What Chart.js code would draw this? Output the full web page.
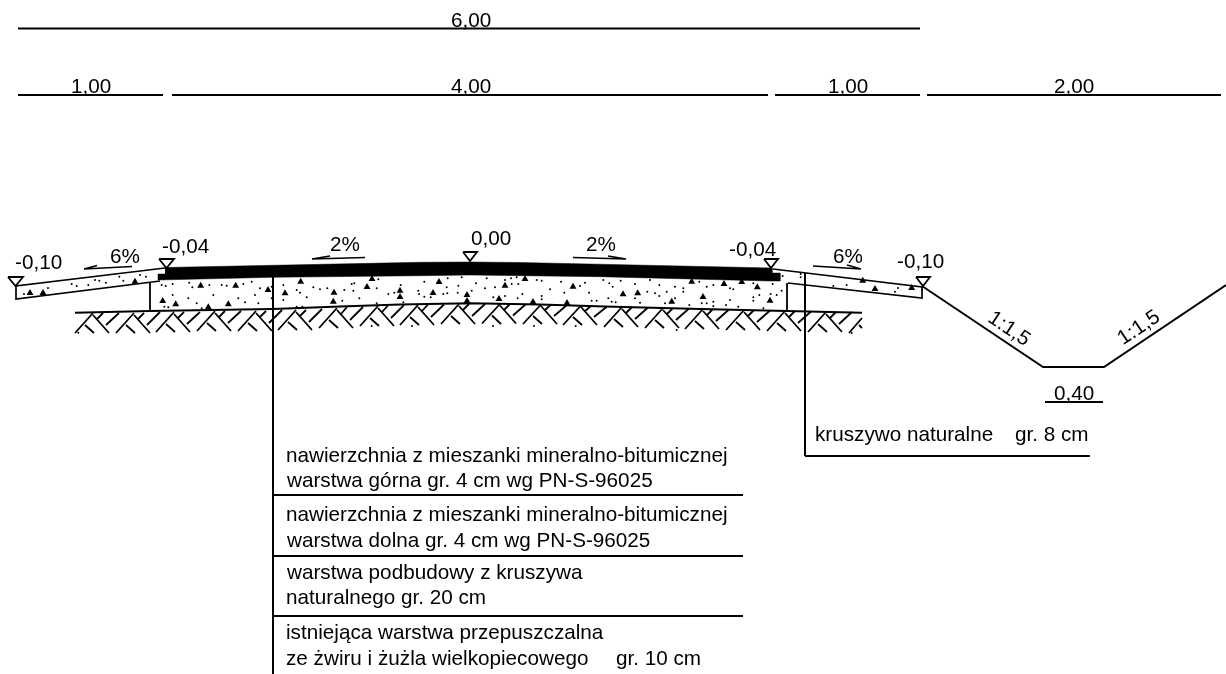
<!DOCTYPE html>
<html>
<head>
<meta charset="utf-8">
<title>Przekroj drogi</title>
<script src="https://cdn.jsdelivr.net/npm/chart.js@4"></script>
<style>
html, body { margin: 0; padding: 0; background: #fff; }
canvas { display: block; }
</style>
</head>
<body>
<canvas id="przekroj" width="1226" height="674"></canvas>
<script>
// wymiary - odcinki [x1, y1, x2, y2]
var dimensionLines = [
    [18, 28.5, 920, 28.5],
    [18, 95, 163, 95], [172, 95, 768, 95], [775, 95, 920, 95], [927, 95, 1221, 95],
    [1045, 402, 1103, 402]
];
// spadki - kreska i pol grotu
var slopeArrows = [
    [84, 269, 132, 266.5], [84, 269, 97, 265.5],
    [312, 259, 365, 257.5], [312, 259, 330, 256],
    [573, 257.5, 626, 259], [608, 256, 626, 259],
    [813, 266, 861, 269], [847, 265, 861, 269]
];
// linia odniesien i tabela warstw
var leaderLines = [
    [273, 276, 273, 674],
    [805, 273, 805, 456], [805, 456, 1090, 456],
    [273, 495, 743, 495], [273, 556, 743, 556], [273, 616, 743, 616]
];
// pobocza, podbudowa, row
var leftShoulder = [[160, 281], [16, 299], [16, 286], [165, 268]];
var rightShoulder = [[773, 269], [922, 287], [922, 298], [788, 283]];
var baseLeft = [[150, 283], [150, 311]];
var baseRight = [[787, 283], [787, 311]];
var ditch = [[922, 286], [1043, 367], [1104, 367], [1226, 285]];
var groundLine = [[75, 312.7], [150, 311], [273, 309], [340, 306.5], [400, 304.5], [470, 303.3], [540, 304.5], [605, 306.5], [700, 309], [787, 311], [862, 312.7]];
// nawierzchnia
var asphalt = [[165, 267.5], [420, 262.3], [470, 262], [520, 262.5], [772, 268], [772, 273], [780, 273], [780, 281], [770, 281], [600, 276.7], [470, 275], [420, 275.7], [273, 277.3], [158, 280], [158, 274], [165, 274]];
var asphaltJoint = [[172, 273], [420, 268], [470, 267.5], [520, 268], [770, 273]];
// znaczniki rzednych
var levelMarkers = [
    [[8, 277], [23, 277], [15.5, 286], [8, 277]],
    [[159, 259], [174, 259], [166.5, 268], [159, 259]],
    [[463, 252], [477, 252], [470, 261], [463, 252]],
    [[764, 259], [778, 259], [771, 268], [764, 259]],
    [[916, 277], [930, 277], [923, 286], [916, 277]]
];
// grunt rodzimy - kreskowanie
var soilHatch = [
    [75, 333, 93, 313], [97, 319, 103, 313], [106, 325, 119, 313], [85, 325, 94, 333], [93, 315, 109, 333],
    [116, 333, 134, 313], [138, 319, 144, 313], [147, 325, 160, 312], [126, 325, 135, 333], [134, 315, 150, 333],
    [156, 332, 174, 312], [178, 318, 184, 312], [187, 324, 200, 312], [166, 324, 175, 332], [174, 314, 190, 332],
    [197, 331, 215, 311], [219, 317, 225, 311], [228, 323, 241, 311], [207, 323, 216, 331], [215, 313, 231, 331],
    [238, 331, 256, 311], [260, 317, 266, 311], [269, 323, 282, 310], [248, 323, 257, 331], [256, 313, 272, 331],
    [278, 330, 296, 310], [300, 316, 306, 310], [309, 322, 322, 309], [288, 322, 297, 330], [296, 312, 312, 330],
    [319, 328, 337, 308], [341, 314, 347, 307], [350, 320, 363, 307], [329, 320, 338, 328], [337, 310, 353, 328],
    [360, 326, 378, 306], [382, 312, 388, 305.5], [391, 318, 404, 305], [370, 318, 379, 326], [378, 308, 394, 326],
    [400, 325, 418, 305], [422, 311, 428, 304.5], [431, 317, 444, 304.5], [410, 317, 419, 325], [418, 307, 434, 325],
    [441, 324, 459, 304], [463, 310, 469, 304], [472, 316, 485, 304], [451, 316, 460, 324], [459, 306, 475, 324],
    [482, 323.5, 500, 304], [504, 310, 510, 304], [513, 315.5, 526, 304], [492, 315.5, 501, 324], [500, 305.5, 516, 323.5],
    [523, 324, 541, 304.5], [545, 310, 551, 304.5], [554, 316, 567, 305], [533, 316, 542, 324], [541, 306, 557, 324],
    [563, 325, 581, 305.5], [585, 311, 591, 306], [594, 317, 607, 306.5], [573, 317, 582, 325], [581, 307, 597, 325],
    [604, 327, 622, 307], [626, 313, 632, 307], [635, 319, 648, 307.5], [614, 319, 623, 327], [622, 309, 638, 327],
    [645, 328, 663, 308], [667, 314, 673, 308], [676, 320, 689, 308.5], [655, 320, 664, 328], [663, 310, 679, 328],
    [685, 329, 703, 309], [707, 315, 713, 309], [716, 321, 729, 309.5], [695, 321, 704, 329], [703, 311, 719, 329],
    [726, 330, 744, 310], [748, 316, 754, 310], [757, 322, 770, 310.5], [736, 322, 745, 330], [744, 312, 760, 330],
    [767, 331, 785, 311], [789, 317, 795, 311], [798, 323, 811, 311.5], [777, 323, 786, 331], [785, 313, 801, 331],
    [808, 332, 826, 312], [830, 318, 836, 312], [839, 324, 852, 312], [818, 324, 827, 332], [826, 314, 842, 332],
    [849, 333, 862, 318], [859, 325, 862, 328]
];
// kruszywo - wieksze ziarna
var aggregateStones = [
    [30, 293], [43, 293], [135, 281.7],
    [200.7, 285.7], [235.7, 285.7], [268, 290], [285, 293.3], [300.7, 281.7], [334, 292.7], [333.3, 301.7], [162.7, 301], [175.7, 304.3], [208.3, 307.3], [228.3, 304.3],
    [372, 279], [367, 287], [400, 290.7], [400, 297], [439, 282], [433, 293], [467, 295], [467, 301], [499, 299], [505, 285.7], [525, 279], [533, 302], [567, 303], [573, 286.7],
    [623, 294.3], [637.7, 293.3], [671.7, 301.7], [703, 297], [724, 284], [757.3, 287.3], [770, 300.7], [741.7, 282], [691.7, 281.7],
    [862.7, 280.7], [875, 289], [911.7, 288]
];
// kruszywo - drobne ziarna
var aggregateDots = [
    [24, 294], [48, 288], [71.7, 284], [76.7, 286], [88.3, 285], [95, 280], [99.3, 280.7], [106, 282.7], [123.3, 280.7], [119.3, 276.7], [140, 275], [146, 276.7],
    [161.7, 285], [165.7, 286], [172.7, 284], [189.3, 282.7], [192.3, 287.3], [209.3, 285], [221.7, 285], [226.7, 285.7], [243.3, 284], [251.7, 281.7], [260, 288.3], [255, 295], [238.3, 298.3], [245, 302.3], [258.3, 303.3], [213.3, 295], [196.7, 303.3], [188.3, 298.3], [172.7, 295], [164.3, 306.7], [168.3, 307.3], [201.7, 308.3],
    [283.3, 285], [296.7, 290], [300, 292.7], [306.7, 297.3], [283.3, 300], [313.3, 287.3], [320, 289.3], [327.3, 288.3], [302.3, 306.7], [296.7, 306.7], [271.7, 298.3], [271.7, 286.7],
    [351.7, 284], [354.3, 283.3], [344.3, 290], [353.3, 290.7], [359.3, 298.3], [342.3, 300.7], [376.7, 288.3], [378.3, 279.3], [388.3, 294], [394.3, 292.7], [400.7, 285], [403.3, 302.3], [376.7, 303.3], [418.3, 290.7], [419, 294], [424.3, 281.7], [424.3, 296.7], [430.7, 297.3], [443.3, 294], [447.3, 293.3], [447.7, 278.3], [461.7, 277.3], [458.3, 285.7], [446.7, 287.3], [457.7, 292.7], [471.7, 290.7], [476, 283.3], [486.7, 278.3], [485, 288.3], [495, 287.3], [505, 280], [511, 278.3], [516.7, 277.3], [518.3, 284], [511.7, 284], [493.3, 297.3], [505, 296], [517.7, 298.3], [522.3, 294], [541.7, 296], [541.7, 299.3], [536.7, 280], [541.7, 280.7], [550, 289.3], [561, 281.7], [564.3, 292.7], [580, 286], [585, 282.7], [589, 292.7], [591.7, 300.7], [596.7, 300.7], [603.3, 280],
    [609.3, 283.3], [612.7, 286.7], [620.7, 280.7], [635, 284], [650, 280], [659.3, 285], [675, 286.7], [683.3, 288.3], [683.3, 291.7], [647.3, 291.7], [655, 293.3], [659.3, 296], [666.7, 291.7], [675, 298.3], [699.3, 281.7], [706.7, 286.7], [713.3, 285], [730, 288.3], [733.3, 289.3], [753.3, 283.3], [772.7, 284], [781.7, 290.7], [776.7, 295], [770.7, 294], [759.3, 295], [753.3, 297.3], [753.3, 300.7], [730, 300], [726, 305], [713.3, 301.7], [713.3, 306], [701.7, 303.3], [706.7, 303.3], [689.3, 305], [665, 303.3], [640, 302.7], [635, 298.3], [608.3, 298.3], [611.7, 301.7], [615.7, 302.3], [738.3, 306.7], [763.3, 308.3],
    [782.7, 276], [800.7, 274], [800.7, 277.3], [846.7, 285], [833.3, 286], [895, 291.7], [898, 288], [922, 290],
    [78.3, 332.7], [371.7, 326], [412, 326], [493, 326], [534, 326], [575.7, 326], [676.7, 330], [851.7, 333]
];
// opisy: tekst, x lewej krawedzi, y linii bazowej
var labelTexts = [
    "6,00", "1,00", "4,00", "1,00", "2,00",
    "-0,10", "6%", "-0,04", "2%", "0,00", "2%", "-0,04", "6%", "-0,10", "0,40",
    "nawierzchnia z mieszanki mineralno-bitumicznej", "warstwa górna gr. 4 cm wg PN-S-96025",
    "nawierzchnia z mieszanki mineralno-bitumicznej", "warstwa dolna gr. 4 cm wg PN-S-96025",
    "warstwa podbudowy z kruszywa", "naturalnego gr. 20 cm",
    "istniejąca warstwa przepuszczalna", "ze żwiru i żużla wielkopiecowego", "gr. 10 cm",
    "kruszywo naturalne", "gr. 8 cm"
];
var labelX = [
    451, 71, 451, 828, 1054,
    15, 110, 162, 330, 471, 586, 729, 833, 897, 1054,
    286, 287, 286, 287, 287, 286, 286, 286, 616, 815, 1015
];
var labelY = [
    27, 93, 93, 93, 93,
    269, 263, 253, 251, 245, 251, 256, 263, 268, 400,
    462, 487, 521, 547, 579, 604, 639, 665, 665, 441, 441
];
// opisy pochylen skarp
var slopeLabels = ["1:1,5", "1:1,5"];
var slopeLabelX = [1009, 1139];
var slopeLabelY = [329, 328];
var slopeLabelAngle = [34, -34];

function toPoints(list) {
    return list.map(function (p) { return { x: p[0], y: p[1] }; });
}

// odcinki rozdzielone pustym punktem, zeby linia sie przerywala
function segmentsToPoints(list) {
    var out = [];
    list.forEach(function (s) {
        out.push({ x: s[0], y: s[1] }, { x: s[2], y: s[3] }, { x: NaN, y: NaN });
    });
    return out;
}

function lineSet(points, width) {
    return {
        data: points,
        showLine: true,
        fill: false,
        borderColor: "#000",
        borderWidth: width,
        pointRadius: 0,
        tension: 0,
        spanGaps: false
    };
}

var datasets = [
    lineSet(segmentsToPoints(soilHatch), 1.8),
    lineSet(toPoints(groundLine), 2),
    lineSet(toPoints(baseLeft), 1.8),
    lineSet(toPoints(baseRight), 1.8),
    lineSet(toPoints(leftShoulder), 1.7),
    lineSet(toPoints(rightShoulder), 1.7),
    lineSet(toPoints(ditch), 2),
    lineSet(segmentsToPoints(dimensionLines), 2),
    lineSet(segmentsToPoints(slopeArrows), 1.5),
    lineSet(segmentsToPoints(leaderLines), 2),
    {
        data: toPoints(asphalt),
        showLine: true,
        fill: "shape",
        backgroundColor: "#000",
        borderColor: "#000",
        borderWidth: 0.5,
        pointRadius: 0
    },
    Object.assign(lineSet(toPoints(asphaltJoint), 1.2), { borderColor: "#999", borderDash: [10, 5] }),
    {
        data: toPoints(aggregateDots),
        showLine: false,
        backgroundColor: "#000",
        borderWidth: 0,
        pointRadius: 1
    },
    {
        data: toPoints(aggregateStones),
        showLine: false,
        backgroundColor: "#000",
        borderColor: "#000",
        borderWidth: 0,
        pointStyle: "triangle",
        pointRadius: 4
    }
];
levelMarkers.forEach(function (m) {
    datasets.push(lineSet(toPoints(m), 1.8));
});

var textPlugin = {
    id: "opisy",
    afterDatasetsDraw: function (chart) {
        var ctx = chart.ctx;
        var sx = chart.scales.x;
        var sy = chart.scales.y;
        ctx.save();
        ctx.fillStyle = "#000";
        ctx.font = "20.7px 'Liberation Sans'";
        ctx.textAlign = "left";
        ctx.textBaseline = "alphabetic";
        labelTexts.forEach(function (t, i) {
            ctx.fillText(t, sx.getPixelForValue(labelX[i]), sy.getPixelForValue(labelY[i]));
        });
        ctx.textAlign = "center";
        ctx.textBaseline = "middle";
        slopeLabels.forEach(function (t, i) {
            ctx.save();
            ctx.translate(sx.getPixelForValue(slopeLabelX[i]), sy.getPixelForValue(slopeLabelY[i]));
            ctx.rotate(slopeLabelAngle[i] * Math.PI / 180);
            ctx.fillText(t, 0, 0);
            ctx.restore();
        });
        ctx.restore();
    }
};

new Chart(document.getElementById("przekroj").getContext("2d"), {
    type: "scatter",
    data: { datasets: datasets },
    options: {
        responsive: false,
        animation: false,
        devicePixelRatio: 1,
        layout: { padding: 0, autoPadding: false },
        plugins: {
            legend: { display: false },
            title: { display: false },
            tooltip: { enabled: false }
        },
        scales: {
            x: { type: "linear", min: 0, max: 1226, display: false },
            y: { type: "linear", min: 0, max: 674, reverse: true, display: false }
        }
    },
    plugins: [textPlugin]
});
</script>
</body>
</html>
